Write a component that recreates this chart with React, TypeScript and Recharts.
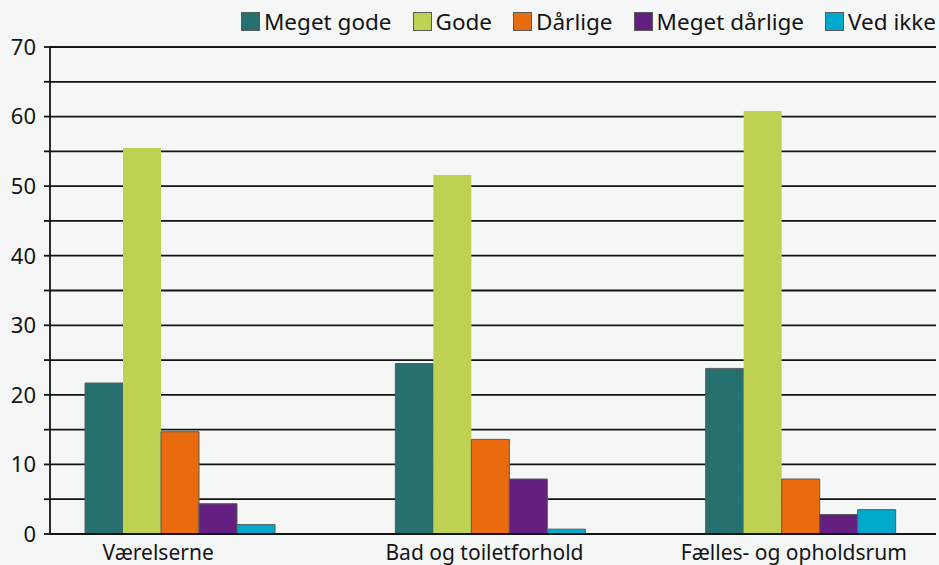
import { Bar, BarChart, CartesianGrid, XAxis, YAxis } from 'recharts';

const categories = ['Værelserne', 'Bad og toiletforhold', 'Fælles- og opholdsrum'];
const megetGode = [21.7, 24.5, 23.8];
const gode = [55.5, 51.6, 60.8];
const daarlige = [14.7, 13.6, 7.9];
const megetDaarlige = [4.35, 7.9, 2.8];
const vedIkke = [1.35, 0.7, 3.5];
const yTicks = [0, 5, 10, 15, 20, 25, 30, 35, 40, 45, 50, 55, 60, 65, 70];

const series = [
  { key: 'megetGode', name: 'Meget gode', values: megetGode, color: '#267070', stroke: '#5a5a5a' },
  { key: 'gode', name: 'Gode', values: gode, color: '#bed153', stroke: 'none' },
  { key: 'daarlige', name: 'Dårlige', values: daarlige, color: '#ea6b0e', stroke: '#5a5a5a' },
  { key: 'megetDaarlige', name: 'Meget dårlige', values: megetDaarlige, color: '#632080', stroke: '#5a5a5a' },
  { key: 'vedIkke', name: 'Ved ikke', values: vedIkke, color: '#00a9cb', stroke: '#5a5a5a' },
];

const data = categories.map((name, i) => {
  const row: Record<string, string | number> = { name };
  series.forEach((s) => {
    row[s.key] = s.values[i];
  });
  return row;
});

const font = '"Noto Sans", sans-serif';
const ink = '#141414';
const labelShift = [-22, -6, -7];

function CategoryTick(props: any) {
  const { x, y, payload, index } = props;
  return (
    <text
      x={x + (labelShift[index] ?? 0)}
      y={y}
      dy="0.71em"
      textAnchor="middle"
      fill={ink}
      fontSize={21}
      fontFamily={font}
    >
      {payload.value}
    </text>
  );
}

export default function App() {
  return (
    <div
      style={{
        position: 'absolute',
        left: 0,
        top: 0,
        width: 939,
        height: 565,
        background: '#f5f7f7',
        fontFamily: font,
      }}
    >
      <div
        style={{
          position: 'absolute',
          top: 6,
          right: 3,
          display: 'flex',
          alignItems: 'center',
          gap: 21,
          fontSize: 22.5,
          color: ink,
        }}
      >
        {series.map((s) => (
          <div key={s.key} style={{ display: 'flex', alignItems: 'center', gap: 4 }}>
            <span
              style={{
                display: 'inline-block',
                width: 17,
                height: 17,
                background: s.color,
                border: '1px solid #5a5a5a',
              }}
            />
            <span>{s.name}</span>
          </div>
        ))}
      </div>
      <BarChart
        width={939}
        height={565}
        data={data}
        barGap={0}
        barSize={38}
        margin={{ top: 47, right: 3, bottom: 1, left: 0 }}
      >
        <CartesianGrid stroke={ink} strokeWidth={1.8} vertical={false} />
        <XAxis
          dataKey="name"
          padding={{ left: -25, right: -20 }}
          tick={<CategoryTick />}
          tickLine={false}
          tickSize={0}
          tickMargin={11}
          axisLine={{ stroke: ink, strokeWidth: 1.8 }}
          height={30}
        />
        <YAxis
          width={50}
          domain={[0, 70]}
          ticks={yTicks}
          interval={0}
          tickFormatter={(v: number) => (v % 10 === 0 ? String(v) : '')}
          tick={{ fill: ink, fontSize: 22, fontFamily: font }}
          tickLine={{ stroke: ink, strokeWidth: 1.8 }}
          tickSize={6}
          tickMargin={8}
          axisLine={{ stroke: ink, strokeWidth: 1.8 }}
        />
        {series.map((s) => (
          <Bar
            key={s.key}
            dataKey={s.key}
            name={s.name}
            fill={s.color}
            stroke={s.stroke}
            strokeWidth={1}
            isAnimationActive={false}
          />
        ))}
      </BarChart>
    </div>
  );
}
